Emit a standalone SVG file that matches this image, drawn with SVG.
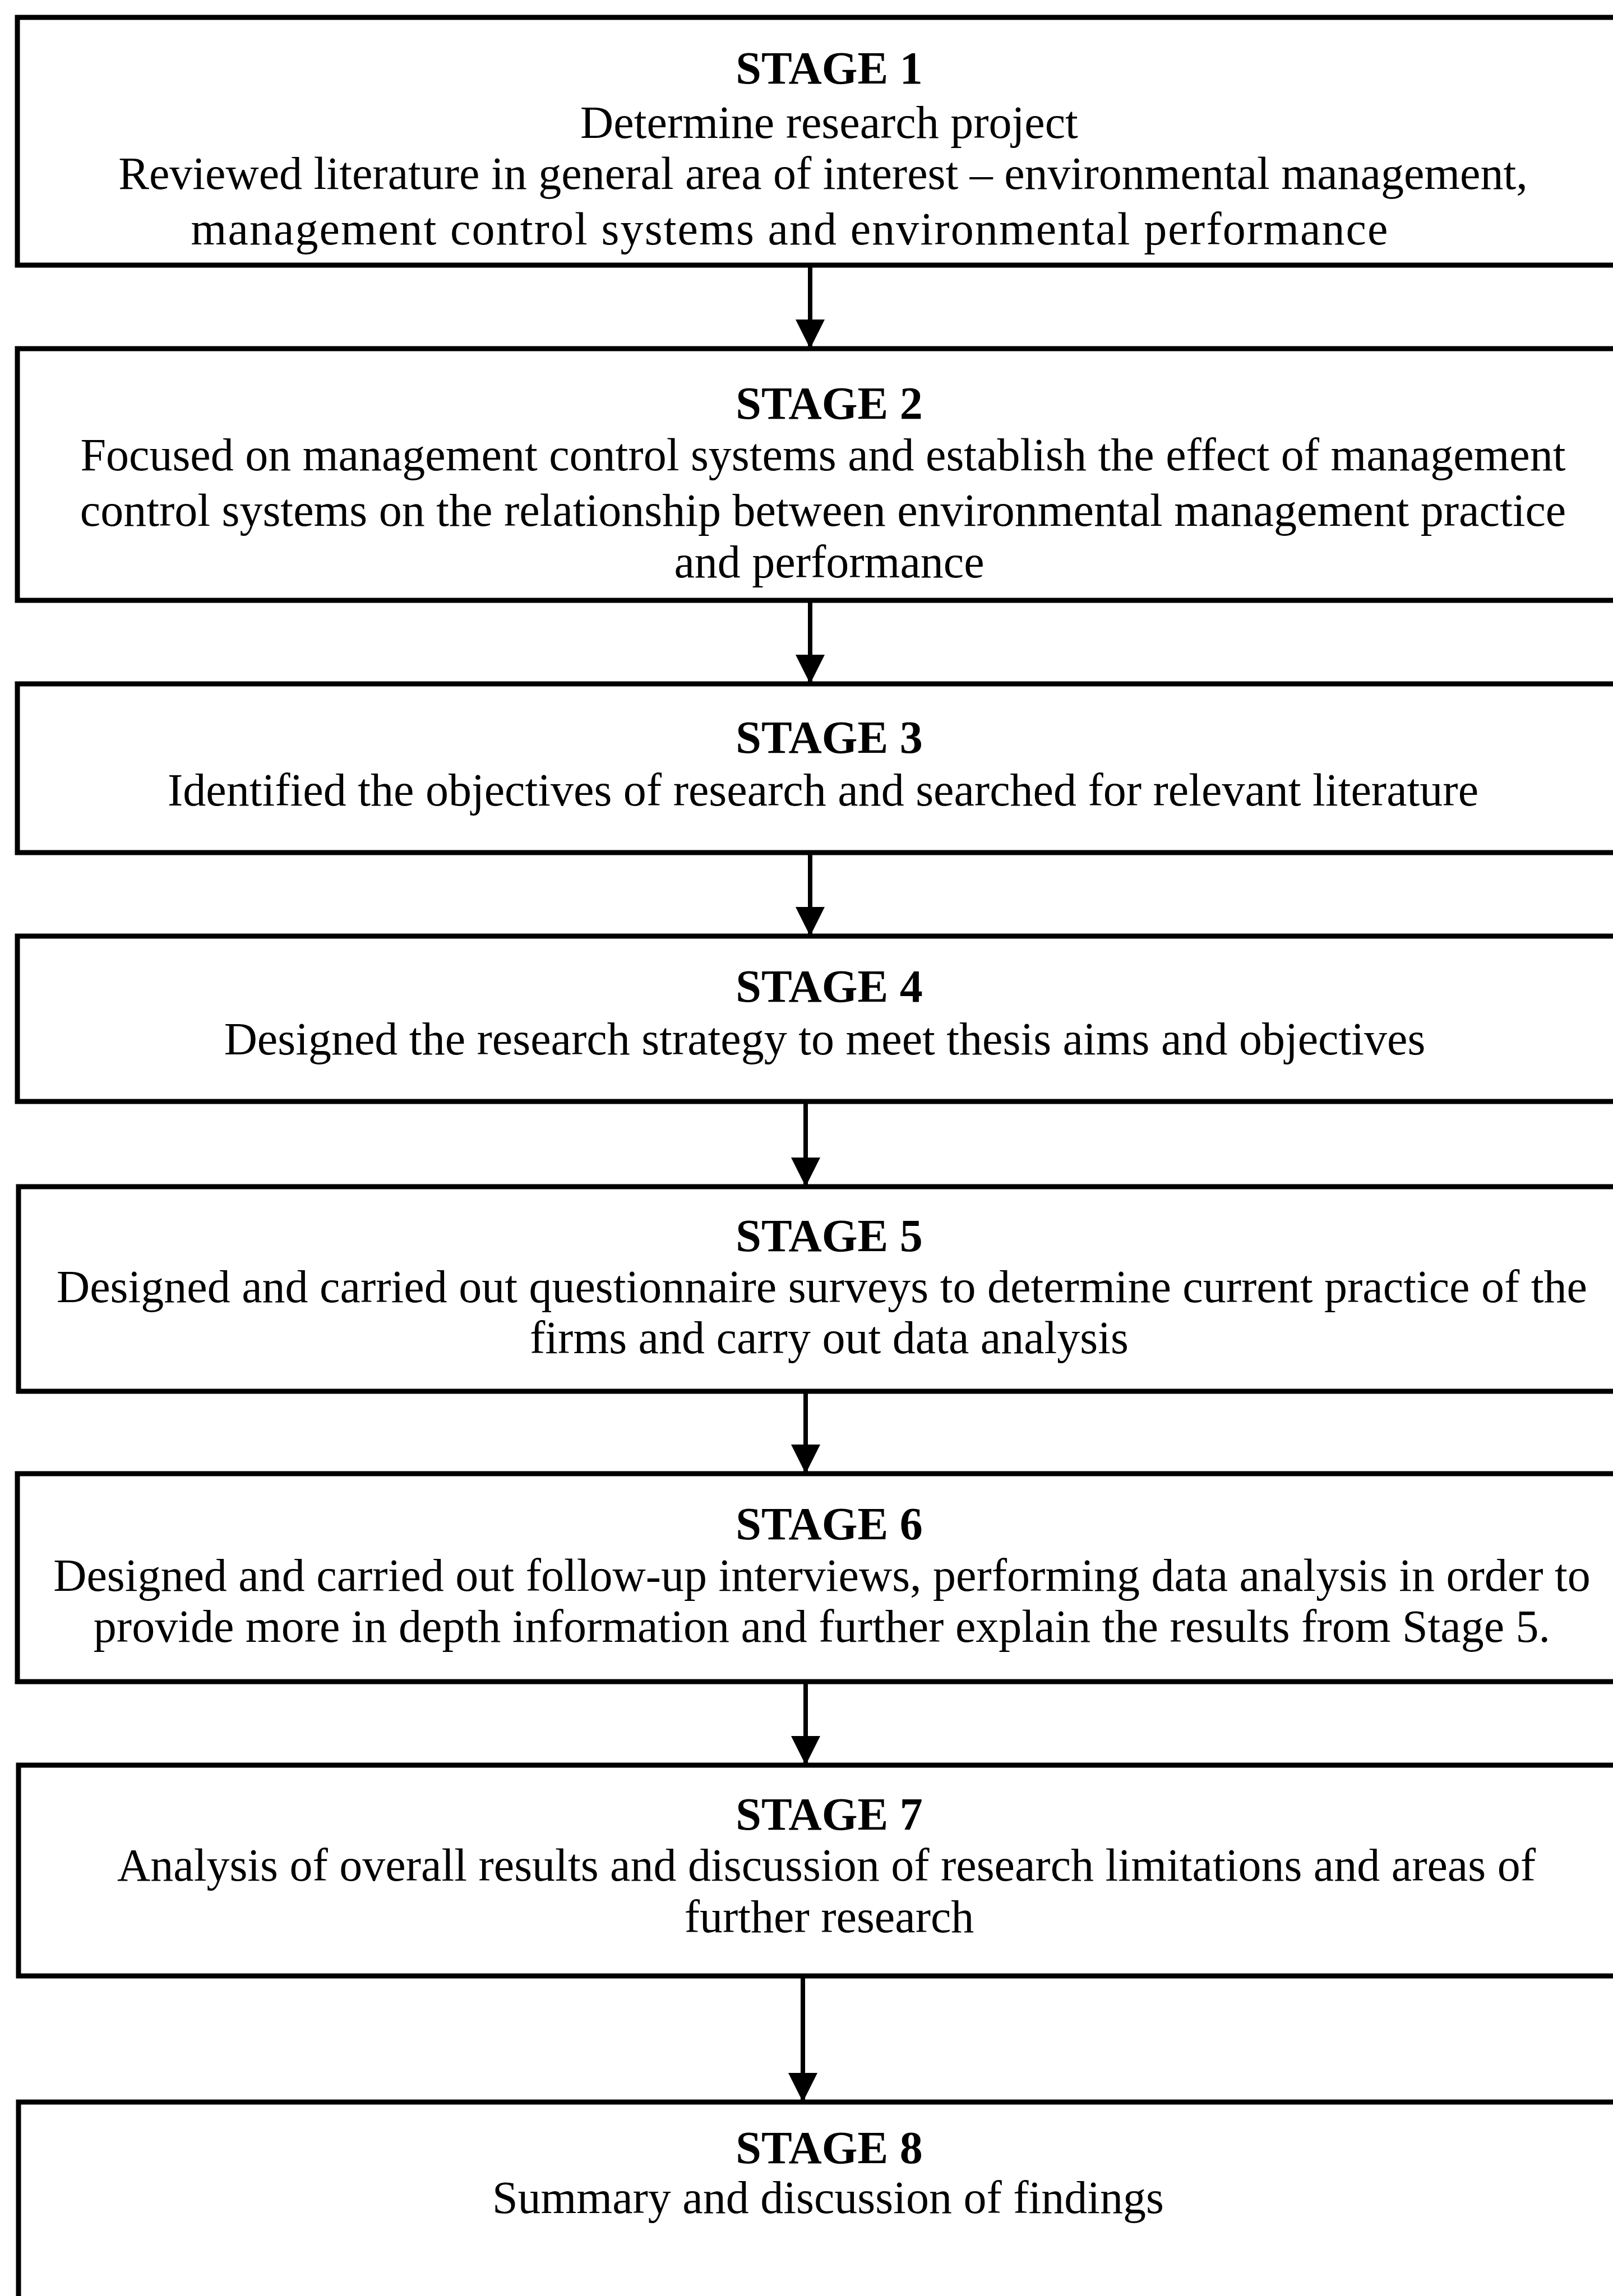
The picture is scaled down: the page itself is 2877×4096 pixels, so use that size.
<svg xmlns="http://www.w3.org/2000/svg" width="2877" height="4096" viewBox="0 0 2877 4096">
<style>
.box{fill:#fff;stroke:#000;stroke-width:9}
.t{font-family:"Liberation Serif","Times New Roman",serif;font-size:82px;fill:#000;text-anchor:middle}
.b{font-weight:bold}
.c{stroke:#000;stroke-width:8;fill:none}
</style>
<defs>
<marker id="ah" markerUnits="userSpaceOnUse" markerWidth="52" markerHeight="52" refX="52" refY="26" orient="auto" viewBox="0 0 52 52">
<path d="M0,0 L52,26 L0,52 Z" fill="#000"/>
</marker>
</defs>
<rect width="2877" height="4096" fill="#fff"/>
<g id="stage1">
<rect class="box" x="31" y="31" width="2900" height="442"/>
<text class="t b" x="1479" y="149">STAGE 1</text>
<text class="t" x="1479" y="246">Determine research project</text>
<text class="t" x="1468" y="337">Reviewed literature in general area of interest – environmental management,</text>
<text class="t" x="1408" y="436" textLength="2135" lengthAdjust="spacing">management control systems and environmental performance</text>
</g>
<g id="stage2">
<rect class="box" x="31" y="622" width="2900" height="449"/>
<text class="t b" x="1479" y="747">STAGE 2</text>
<text class="t" x="1468" y="839">Focused on management control systems and establish the effect of management</text>
<text class="t" x="1468" y="938">control systems on the relationship between environmental management practice</text>
<text class="t" x="1479" y="1030">and performance</text>
</g>
<g id="stage3">
<rect class="box" x="31" y="1220" width="2900" height="301"/>
<text class="t b" x="1479" y="1343">STAGE 3</text>
<text class="t" x="1468" y="1437">Identified the objectives of research and searched for relevant literature</text>
</g>
<g id="stage4">
<rect class="box" x="31" y="1670" width="2900" height="295"/>
<text class="t b" x="1479" y="1787">STAGE 4</text>
<text class="t" x="1471" y="1881">Designed the research strategy to meet thesis aims and objectives</text>
</g>
<g id="stage5">
<rect class="box" x="33" y="2117" width="2900" height="365"/>
<text class="t b" x="1479" y="2232">STAGE 5</text>
<text class="t" x="1466" y="2323">Designed and carried out questionnaire surveys to determine current practice of the</text>
<text class="t" x="1479" y="2414">firms and carry out data analysis</text>
</g>
<g id="stage6">
<rect class="box" x="31" y="2629" width="2900" height="371"/>
<text class="t b" x="1479" y="2746">STAGE 6</text>
<text class="t" x="1466" y="2838">Designed and carried out follow-up interviews, performing data analysis in order to</text>
<text class="t" x="1466" y="2929">provide more in depth information and further explain the results from Stage 5.</text>
</g>
<g id="stage7">
<rect class="box" x="33" y="3149" width="2900" height="376"/>
<text class="t b" x="1479" y="3264">STAGE 7</text>
<text class="t" x="1474" y="3355">Analysis of overall results and discussion of research limitations and areas of</text>
<text class="t" x="1479" y="3447">further research</text>
</g>
<g id="stage8">
<rect class="box" x="33" y="3750" width="2900" height="400"/>
<text class="t b" x="1479" y="3859">STAGE 8</text>
<text class="t" x="1477" y="3948">Summary and discussion of findings</text>
</g>
<g id="connectors">
<line class="c" x1="1445" y1="473" x2="1445" y2="622" marker-end="url(#ah)"/>
<line class="c" x1="1445" y1="1071" x2="1445" y2="1220" marker-end="url(#ah)"/>
<line class="c" x1="1445" y1="1521" x2="1445" y2="1670" marker-end="url(#ah)"/>
<line class="c" x1="1437" y1="1965" x2="1437" y2="2117" marker-end="url(#ah)"/>
<line class="c" x1="1437" y1="2482" x2="1437" y2="2629" marker-end="url(#ah)"/>
<line class="c" x1="1437" y1="3000" x2="1437" y2="3149" marker-end="url(#ah)"/>
<line class="c" x1="1432" y1="3525" x2="1432" y2="3750" marker-end="url(#ah)"/>
</g>
</svg>
